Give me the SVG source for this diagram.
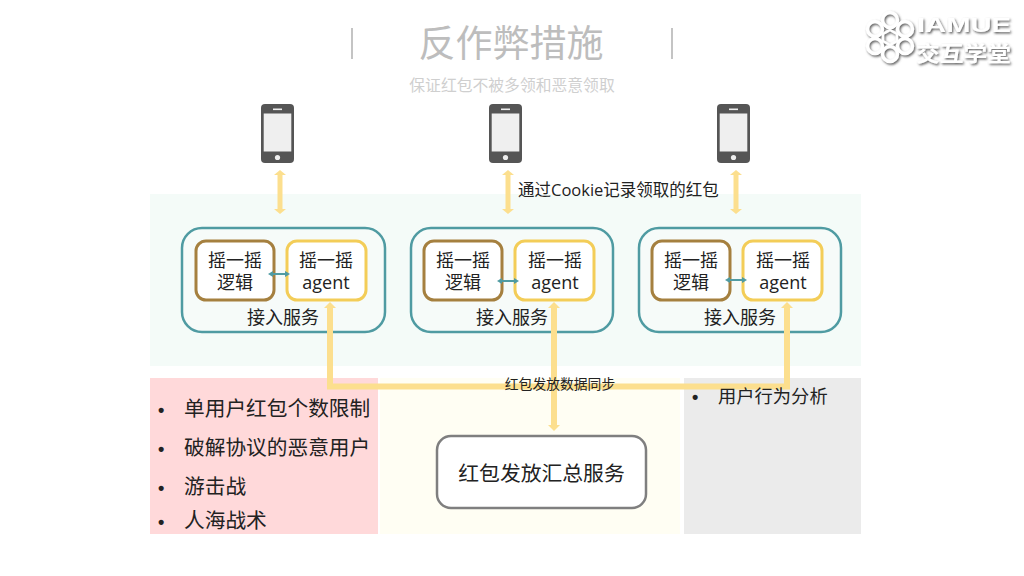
<svg xmlns="http://www.w3.org/2000/svg" width="1024" height="576" viewBox="0 0 1024 576">
<style>
text{font-family:"Open Sans","Noto Sans CJK SC",sans-serif;fill:#222;text-anchor:middle}
.t{font-size:18px}
.l{font-size:20.700px;text-anchor:start}
.d{font-size:18px;text-anchor:start;font-family:"Liberation Sans",sans-serif;font-weight:bold}
.svc{fill:#f6fbf9;stroke:#4f9ba2;stroke-width:2.5}
.lg{fill:#fff;stroke:#a5803f;stroke-width:3}
.ag{fill:#fff;stroke:#f3cd58;stroke-width:3}
.y5{stroke:#fcdf8e;stroke-width:5;fill:none}
.y6{stroke:#fcdf8e;stroke-width:6;fill:none}
.te{stroke:#4f9ba2;stroke-width:2;fill:none}
.ph{fill:#555}
.logo{fill:#fff;font-weight:bold;text-anchor:start}
.ring{fill:none;stroke:#fff;stroke-width:3.500}
</style>
<defs>
<marker id="ya" viewBox="0 0 5 10" refX="0" refY="5" markerWidth="1" markerHeight="2" orient="auto-start-reverse" markerUnits="strokeWidth"><path d="M0 0L5 5L0 10z" fill="#fcdf8e"/></marker>
<marker id="ya5" viewBox="0 0 5 12" refX="0" refY="6" markerWidth="1" markerHeight="2.400" orient="auto-start-reverse" markerUnits="strokeWidth"><path d="M0 0L5 6L0 12z" fill="#fcdf8e"/></marker>
<marker id="ta" viewBox="0 0 5 6" refX="0" refY="3" markerWidth="2.500" markerHeight="3" orient="auto-start-reverse" markerUnits="strokeWidth"><path d="M0 0L5 3L0 6z" fill="#4f9ba2"/></marker>
<filter id="sh" x="-20%" y="-20%" width="140%" height="140%"><feDropShadow dx="1.200" dy="1.500" stdDeviation="1.100" flood-color="#555" flood-opacity=".95"/></filter>
<g id="phone"><rect x="0" y="0" width="33" height="59" rx="4" class="ph"/><rect x="2.700" y="9.500" width="27.600" height="38" fill="#efefef"/><rect x="12" y="4.500" width="9" height="1.600" fill="#eee"/><circle cx="16.500" cy="53.500" r="2.600" fill="#eee"/></g>
</defs>
<rect width="1024" height="576" fill="#fff"/>
<g id="panels">
<rect x="150" y="194" width="711" height="172" fill="#f4fbf8"/>
<rect x="380" y="378" width="300" height="156" fill="#fffef3"/>
<rect x="150" y="378" width="228" height="156" fill="#ffd9da"/>
<rect x="684" y="378" width="177" height="156" fill="#ebebeb"/>
</g>
<g id="title">
<line x1="352" y1="28" x2="352" y2="59" stroke="#c4c4c4" stroke-width="2"/>
<line x1="672" y1="28" x2="672" y2="59" stroke="#c4c4c4" stroke-width="2"/>
<text x="511" y="57" style="font-size:37px;fill:#bdbdbd">反作弊措施</text>
<text x="512" y="91" style="font-size:15.800px;fill:#cfcfcf">保证红包不被多领和恶意领取</text>
</g>
<g id="logo" filter="url(#sh)">
<circle class="ring" cx="890" cy="20" r="7.500"/><circle class="ring" cx="890" cy="54" r="7.500"/><circle class="ring" cx="875" cy="29" r="7.500"/><circle class="ring" cx="905" cy="29" r="7.500"/><circle class="ring" cx="875" cy="46" r="7.500"/><circle class="ring" cx="905" cy="46" r="7.500"/>
<polygon points="890,30 897,34 897,41 890,45 883,41 883,34" fill="none" stroke="#fff" stroke-width="2.500"/>
<text class="logo" x="917" y="32" style="font-family:'Liberation Sans',sans-serif;font-size:21px" textLength="94" lengthAdjust="spacingAndGlyphs">IAMUE</text>
<text class="logo" x="916" y="61" style="font-size:21px;font-family:'Noto Sans CJK SC',sans-serif" textLength="95" lengthAdjust="spacingAndGlyphs">交互学堂</text>
</g>
<g id="phone1"><use href="#phone" x="261" y="104"/></g>
<g id="phone2"><use href="#phone" x="489" y="104"/></g>
<g id="phone3"><use href="#phone" x="717" y="104"/></g>
<g id="service1">
<rect class="svc" x="182" y="228" width="203" height="104" rx="20"/>
<rect class="lg" x="196" y="241" width="78" height="59" rx="10"/>
<rect class="ag" x="287" y="241" width="79" height="59" rx="10"/>
<text class="t" x="235" y="267">摇一摇<tspan x="235" dy="22">逻辑</tspan></text>
<text class="t" x="326" y="267">摇一摇<tspan x="326" dy="22">agent</tspan></text>
<text class="t" x="283" y="324">接入服务</text>
</g>
<g id="service2">
<rect class="svc" x="411" y="228" width="202" height="104" rx="20"/>
<rect class="lg" x="424" y="241" width="78" height="59" rx="10"/>
<rect class="ag" x="515" y="241" width="79" height="59" rx="10"/>
<text class="t" x="463" y="267">摇一摇<tspan x="463" dy="22">逻辑</tspan></text>
<text class="t" x="555" y="267">摇一摇<tspan x="555" dy="22">agent</tspan></text>
<text class="t" x="512" y="324">接入服务</text>
</g>
<g id="service3">
<rect class="svc" x="639" y="228" width="202" height="104" rx="20"/>
<rect class="lg" x="652" y="241" width="78" height="59" rx="10"/>
<rect class="ag" x="743" y="241" width="79" height="59" rx="10"/>
<text class="t" x="691" y="267">摇一摇<tspan x="691" dy="22">逻辑</tspan></text>
<text class="t" x="783" y="267">摇一摇<tspan x="783" dy="22">agent</tspan></text>
<text class="t" x="740" y="324">接入服务</text>
</g>
<g id="summary">
<rect x="437" y="436" width="209" height="72" rx="14" fill="#fff" stroke="#7f7f7f" stroke-width="2.500"/>
<text x="541.500" y="481" style="font-size:20.800px">红包发放汇总服务</text>
</g>
<g id="connectors">
<line class="y5" x1="280" y1="175" x2="280" y2="209" marker-start="url(#ya5)" marker-end="url(#ya5)"/>
<line class="y5" x1="508" y1="175" x2="508" y2="209" marker-start="url(#ya5)" marker-end="url(#ya5)"/>
<line class="y5" x1="736" y1="175" x2="736" y2="209" marker-start="url(#ya5)" marker-end="url(#ya5)"/>
<line class="te" x1="273" y1="274" x2="285" y2="274" marker-start="url(#ta)" marker-end="url(#ta)"/>
<line class="te" x1="502" y1="281" x2="514" y2="281" marker-start="url(#ta)" marker-end="url(#ta)"/>
<line class="te" x1="730" y1="280" x2="742" y2="280" marker-start="url(#ta)" marker-end="url(#ta)"/>
<path class="y6" d="M330 308V386.500H787V308" marker-start="url(#ya)" marker-end="url(#ya)"/>
<line class="y6" x1="554" y1="308" x2="554" y2="425" marker-start="url(#ya)" marker-end="url(#ya)"/>
</g>
<g id="labels">
<text x="518" y="196" style="font-size:16.500px;text-anchor:start">通过Cookie记录领取的红包</text>
<text x="560" y="389" style="font-size:13.800px">红包发放数据同步</text>
</g>
<g id="list-red">
<text class="d" x="158" y="416">•</text><text class="l" x="184" y="416">单用户红包个数限制</text>
<text class="d" x="158" y="455">•</text><text class="l" x="184" y="455">破解协议的恶意用户</text>
<text class="d" x="158" y="494">•</text><text class="l" x="184" y="494">游击战</text>
<text class="d" x="158" y="528">•</text><text class="l" x="184" y="528">人海战术</text>
</g>
<g id="list-gray">
<text class="d" x="692" y="403">•</text><text x="718" y="403" style="font-size:18.300px;text-anchor:start">用户行为分析</text>
</g>
</svg>
